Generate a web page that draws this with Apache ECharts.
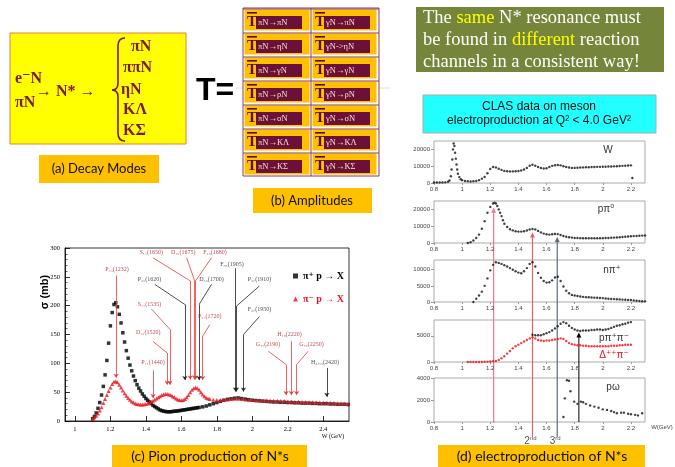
<!DOCTYPE html>
<html><head><meta charset="utf-8">
<script src="https://cdn.jsdelivr.net/npm/echarts@6/dist/echarts.min.js"></script>
<style>html,body{margin:0;padding:0;background:#fff}#c{width:675px;height:467px}</style>
</head><body><div id="c"></div>
<script>
// ================= DATA =================
// (a) decay modes
const initialStates = ['e⁻N', 'πN'];
const decayModes = ['πN', 'ππN', 'ηN', 'KΛ', 'KΣ'];
// (b) amplitudes
const ampPion = ['πN→πN', 'πN→ηN', 'πN→γN', 'πN→ρN', 'πN→σN', 'πN→KΛ', 'πN→KΣ'];
const ampPhoton = ['γN→πN', 'γN->ηN', 'γN→γN', 'γN→ρN', 'γN→σN', 'γN→KΛ', 'γN→KΣ'];
// (c) pion production, W (GeV) vs sigma (mb)
const cXTicks = [1, 1.2, 1.4, 1.6, 1.8, 2, 2.2, 2.4];
const cYTicks = [0, 50, 100, 150, 200, 250, 300];
const piPlusP = [[1.10,4],[1.11,8],[1.12,14],[1.13,22],[1.14,32],[1.15,45],[1.16,60],[1.17,80],[1.18,105],[1.19,135],[1.20,165],[1.21,188],[1.22,202],[1.23,205],[1.24,198],[1.25,185],[1.26,170],[1.27,153],[1.28,137],[1.29,122],[1.30,109],[1.31,97],[1.32,87],[1.33,78],[1.34,70],[1.35,63],[1.36,57],[1.37,52],[1.38,47],[1.39,43],[1.40,39],[1.41,36],[1.42,33],[1.43,30],[1.44,27],[1.45,25],[1.46,23],[1.47,21],[1.48,19],[1.49,18],[1.50,17],[1.51,16.5],[1.52,16],[1.53,16],[1.54,16],[1.55,16.5],[1.56,17],[1.57,17],[1.58,17.5],[1.59,18],[1.60,18.5],[1.61,19],[1.62,19.5],[1.63,20],[1.64,20.5],[1.65,21],[1.66,21.5],[1.67,22],[1.68,22.5],[1.69,23],[1.70,23.5],[1.72,24.5],[1.74,26],[1.76,28],[1.78,30],[1.80,32],[1.82,34],[1.84,36],[1.86,37.5],[1.88,38.5],[1.90,39.5],[1.92,40],[1.94,39],[1.96,38],[1.98,37],[2.00,36],[2.02,35.5],[2.04,35],[2.06,34.5],[2.08,34],[2.10,33.5],[2.12,33],[2.14,33],[2.16,32.5],[2.18,32.5],[2.20,32],[2.22,32],[2.24,31.5],[2.26,31.5],[2.28,31],[2.30,31],[2.32,31],[2.34,30.5],[2.36,30.5],[2.38,30],[2.40,30],[2.42,30],[2.44,29.5],[2.46,29.5],[2.48,29],[2.50,29],[2.52,29],[2.54,28.5]];
const piMinusP = [[1.10,4],[1.11,6],[1.12,9],[1.13,13],[1.14,18],[1.15,24],[1.16,31],[1.17,38],[1.18,45],[1.19,52],[1.20,58],[1.21,64],[1.22,68],[1.23,69],[1.24,67],[1.25,63],[1.26,58],[1.27,53],[1.28,48],[1.29,44],[1.30,40],[1.31,37],[1.32,34],[1.33,32],[1.34,30.5],[1.35,29.5],[1.36,29],[1.37,28.5],[1.38,28.5],[1.39,29],[1.40,29.5],[1.41,30.5],[1.42,32],[1.43,33.5],[1.44,35],[1.45,37],[1.46,39],[1.47,41],[1.48,43],[1.49,45],[1.50,46],[1.51,47],[1.52,47],[1.53,46],[1.54,45],[1.55,43],[1.56,41],[1.57,39],[1.58,37.5],[1.59,36.5],[1.60,36],[1.61,36.5],[1.62,38],[1.63,41],[1.64,45],[1.65,50],[1.66,54],[1.67,57],[1.68,58],[1.69,57],[1.70,54],[1.71,50],[1.72,46],[1.73,43],[1.74,40.5],[1.75,39],[1.76,38],[1.78,37],[1.80,36.5],[1.82,36.5],[1.84,37],[1.86,37.5],[1.88,38],[1.90,38.5],[1.92,38.5],[1.94,38],[1.96,37.5],[1.98,37],[2.00,36.5],[2.02,36],[2.04,36],[2.06,35.5],[2.08,35.5],[2.10,35],[2.12,35],[2.14,35],[2.16,34.5],[2.18,34.5],[2.20,34],[2.22,34],[2.24,33.5],[2.26,33.5],[2.28,33],[2.30,33],[2.32,32.5],[2.34,32.5],[2.36,32],[2.38,32],[2.40,31.5],[2.42,31.5],[2.44,31],[2.46,31],[2.48,30.5],[2.50,30.5],[2.52,30],[2.54,30]];
// resonance annotations (data coords: W, sigma); ch '+' = black, '-' = red
const resonances = [
  {name:'P₃₃(1232)', ch:'-', at:[1.237,262], path:[[1.232,252],[1.232,75]]},
  {name:'S₁₁(1650)', ch:'-', at:[1.43,292], path:[[1.44,283],[1.65,243],[1.65,72]]},
  {name:'D₁₅(1675)', ch:'-', at:[1.61,292], path:[[1.63,283],[1.675,243],[1.675,72]]},
  {name:'F₁₅(1680)', ch:'-', at:[1.79,292], path:[[1.77,283],[1.68,243],[1.68,72]]},
  {name:'F₃₅(1905)', ch:'+', at:[1.885,272], path:[[1.905,265],[1.905,51]]},
  {name:'P₃₁(1620)', ch:'+', at:[1.42,246], path:[[1.45,237],[1.62,202],[1.62,71]]},
  {name:'D₃₃(1700)', ch:'+', at:[1.77,246], path:[[1.77,237],[1.70,202],[1.70,71]]},
  {name:'P₃₁(1910)', ch:'+', at:[2.04,246], path:[[2.04,234],[1.91,199],[1.91,51]]},
  {name:'S₁₁(1535)', ch:'-', at:[1.42,202], path:[[1.432,194],[1.535,159],[1.535,63]]},
  {name:'P₁₃(1720)', ch:'-', at:[1.76,182], path:[[1.76,167],[1.72,147],[1.72,71]]},
  {name:'F₃₇(1950)', ch:'+', at:[2.04,194], path:[[2.04,181],[1.95,150],[1.95,51]]},
  {name:'D₁₃(1520)', ch:'-', at:[1.413,153], path:[[1.44,138],[1.52,118],[1.52,63]]},
  {name:'H₁₉(2220)', ch:'-', at:[2.21,150], path:[[2.22,138],[2.22,45]]},
  {name:'G₁₇(2190)', ch:'-', at:[2.089,133], path:[[2.09,121],[2.19,98],[2.19,45]]},
  {name:'G₁₉(2250)', ch:'-', at:[2.333,133], path:[[2.315,121],[2.25,98],[2.25,45]]},
  {name:'P₁₁(1440)', ch:'-', at:[1.44,101], path:[[1.44,88],[1.44,40]]},
  {name:'H₃,₁₁(2420)', ch:'+', at:[2.41,101], path:[[2.42,92],[2.42,42]]}
];
// (d) CLAS electroproduction panels
const dXTicks = [0.8, 1, 1.2, 1.4, 1.6, 1.8, 2, 2.2];
const wYTicks = [0, 10000, 20000];
const pi0YTicks = [0, 10000, 20000];
const npYTicks = [0, 5000, 10000];
const ppmYTicks = [0, 5000];
const omegaYTicks = [0, 2000, 4000];
const wInclusive = [[0.80,300],[0.82,300],[0.84,300],[0.86,300],[0.88,400],[0.90,700],[0.91,1500],[0.92,4000],[0.925,8000],[0.93,14000],[0.935,20000],[0.94,23500],[0.945,22000],[0.95,18000],[0.955,14500],[0.96,11000],[0.965,8000],[0.97,5500],[0.98,3500],[0.99,2300],[1.00,1700],[1.02,1200],[1.04,1000],[1.06,900],[1.08,1000],[1.10,1200],[1.12,1700],[1.14,2600],[1.16,3600],[1.18,5800],[1.20,8300],[1.22,9500],[1.24,9300],[1.26,8500],[1.28,7800],[1.30,7200],[1.32,7000],[1.34,6900],[1.36,6900],[1.38,7000],[1.40,7100],[1.42,7400],[1.44,8000],[1.46,9000],[1.48,10300],[1.50,10900],[1.52,10300],[1.54,9500],[1.56,8900],[1.58,8600],[1.60,8800],[1.62,9500],[1.64,10200],[1.66,10600],[1.68,10700],[1.70,10500],[1.72,10000],[1.74,9500],[1.76,9200],[1.78,9000],[1.80,9000],[1.82,9100],[1.84,9200],[1.86,9300],[1.88,9400],[1.90,9400],[1.92,9500],[1.94,9500],[1.96,9600],[1.98,9600],[2.00,9700],[2.02,9700],[2.04,9800],[2.06,9800],[2.08,9900],[2.10,10000],[2.12,10100],[2.14,10200],[2.16,10300],[2.18,10400],[2.20,10500],[2.21,3000]];
const pPi0 = [[1.04,0],[1.06,500],[1.08,1500],[1.10,3000],[1.12,5000],[1.14,8500],[1.16,13000],[1.18,18000],[1.20,21500],[1.22,23500],[1.23,24000],[1.24,23500],[1.25,22000],[1.26,20000],[1.27,18000],[1.28,16000],[1.29,13500],[1.30,11500],[1.32,9500],[1.34,8200],[1.36,7500],[1.38,7000],[1.40,6800],[1.42,6800],[1.44,7000],[1.46,7400],[1.48,8000],[1.50,8300],[1.52,8000],[1.54,7200],[1.56,6300],[1.58,5600],[1.60,5200],[1.62,5000],[1.64,5200],[1.66,5400],[1.68,5300],[1.70,4800],[1.72,4200],[1.74,3700],[1.76,3400],[1.78,3200],[1.80,3000],[1.82,2950],[1.84,2900],[1.86,2850],[1.88,2800],[1.90,2800],[1.92,2800],[1.94,2800],[1.96,2800],[1.98,2850],[2.00,2900],[2.02,2950],[2.04,3000],[2.06,3100],[2.08,3200],[2.10,3300],[2.12,3400],[2.14,3550],[2.16,3700],[2.18,3850],[2.20,4000],[2.22,4100],[2.24,4200],[2.26,4300],[2.28,4400],[2.30,4500]];
const nPiPlus = [[1.08,0],[1.10,1000],[1.12,2000],[1.14,3200],[1.16,5000],[1.18,7300],[1.20,9800],[1.22,11500],[1.24,12300],[1.26,12100],[1.28,11800],[1.30,11400],[1.32,11000],[1.34,10500],[1.36,10000],[1.38,9500],[1.40,9100],[1.42,8900],[1.44,9500],[1.46,10500],[1.48,11800],[1.50,12300],[1.52,11000],[1.54,9000],[1.56,7500],[1.58,6500],[1.60,6000],[1.62,6100],[1.64,6700],[1.66,7600],[1.68,7800],[1.70,6500],[1.72,4800],[1.74,3500],[1.76,2700],[1.78,2200],[1.80,2000],[1.82,1850],[1.84,1700],[1.86,1600],[1.88,1500],[1.90,1450],[1.92,1400],[1.94,1350],[1.96,1300],[1.98,1250],[2.00,1200],[2.02,1100],[2.04,1000],[2.06,950],[2.08,900],[2.10,850],[2.12,800],[2.14,750],[2.16,700],[2.18,650],[2.20,600],[2.22,500],[2.24,400],[2.26,300],[2.28,250],[2.30,200]];
const pPipPim = [[1.50,5200],[1.52,5100],[1.54,5100],[1.56,5100],[1.58,5300],[1.60,5500],[1.62,5700],[1.64,6000],[1.66,6400],[1.68,6800],[1.70,7300],[1.72,7600],[1.74,7400],[1.76,6900],[1.78,6500],[1.80,6200],[1.82,6000],[1.84,5900],[1.86,6000],[1.88,6000],[1.90,6000],[1.92,6100],[1.94,6100],[1.96,6200],[1.98,6200],[2.00,6100],[2.02,6200],[2.04,6300],[2.06,6500],[2.08,6700],[2.10,6900],[2.12,7000],[2.14,7200],[2.16,7300],[2.18,7500],[2.20,7600]];
const deltaPiMinus = [[1.04,0],[1.06,0],[1.08,0],[1.10,0],[1.12,0],[1.14,0],[1.16,50],[1.18,50],[1.20,100],[1.22,150],[1.24,200],[1.26,400],[1.28,700],[1.30,1100],[1.32,1600],[1.34,2100],[1.36,2600],[1.38,3000],[1.40,3300],[1.42,3600],[1.44,3900],[1.46,4200],[1.48,4500],[1.50,4700],[1.52,4500],[1.54,4200],[1.56,4100],[1.58,4000],[1.60,4100],[1.62,4100],[1.64,4200],[1.66,4300],[1.68,4400],[1.70,4500],[1.72,4400],[1.74,4000],[1.76,3600],[1.78,3400],[1.80,3300],[1.82,3200],[1.84,3200],[1.86,3100],[1.88,3100],[1.90,3000],[1.92,3000],[1.94,3000],[1.96,3000],[1.98,3000],[2.00,3000],[2.02,3000],[2.04,3000],[2.06,3100],[2.08,3100],[2.10,3100],[2.12,3200],[2.14,3200],[2.16,3300],[2.18,3300],[2.20,3300]];
const pOmega = [[1.72,460],[1.73,2150],[1.745,3800],[1.76,3750],[1.77,2800],[1.797,1850],[1.82,1650],[1.844,1850],[1.86,1800],[1.88,1650],[1.91,1500],[1.94,1400],[1.97,1300],[2.00,1150],[2.03,1100],[2.06,1000],[2.08,900],[2.10,800],[2.13,850],[2.15,850],[2.18,750],[2.20,700],[2.23,650],[2.25,600],[2.28,800]];
// resonance markers in (d): W positions and arrow-tip values in the p pi0 panel
const resonanceW = [1.224, 1.50, 1.676];
const resonanceTipPi0 = [21000, 6200, 3600];
const resonanceNames = ['', '2', '3'];
const omegaArrowW = 1.83;
const omegaArrowTip = 5600;

// ================= CHART =================
const SERIF = '"Liberation Serif","DejaVu Serif",serif';
const SANS = '"Liberation Sans","DejaVu Sans",sans-serif';
const CAPF = 'Lato,"Open Sans",sans-serif';
const chart = echarts.init(document.getElementById('c'));

const dGrids = [
  {top:141, height:42}, {top:201, height:42}, {top:260, height:42}, {top:320, height:42}, {top:378, height:44}
];
const dYMax = [25000, 25000, 13000, 8000, 4000];
const dYTicks = [wYTicks, pi0YTicks, npYTicks, ppmYTicks, omegaYTicks];

const grids = [{left:65, top:248, width:284, height:173, show:true, borderColor:'#000', borderWidth:0.8, backgroundColor:'transparent'}];
dGrids.forEach(g => grids.push({left:434, width:211, top:g.top, height:g.height, show:true, borderColor:'#aaa', borderWidth:1}));

const xAxes = [{
  type:'value', gridIndex:0, min:0.944, max:2.545,
  axisLine:{show:true, lineStyle:{color:'#000', width:0.8}},
  axisTick:{show:true, inside:true, length:5, customValues:cXTicks, lineStyle:{color:'#000', width:0.8}},
  axisLabel:{customValues:cXTicks, fontFamily:SERIF, fontSize:6.5, color:'#000', margin:5, formatter:v=>String(v)},
  splitLine:{show:false}
}];
const yAxes = [{
  type:'value', gridIndex:0, min:0, max:300, interval:50,
  axisLine:{show:true, lineStyle:{color:'#000', width:0.8}},
  axisTick:{show:true, inside:true, length:5, lineStyle:{color:'#000', width:0.8}},
  minorTick:{show:true, splitNumber:5, length:2.5, lineStyle:{color:'#000', width:0.6}},
  axisLabel:{fontFamily:SERIF, fontSize:6.5, color:'#000', margin:5},
  splitLine:{show:false}
}];
for (let i = 0; i < 5; i++) {
  xAxes.push({
    type:'value', gridIndex:i+1, min:0.8, max:2.3,
    axisLine:{show:false},
    axisTick:{show:true, length:2, customValues:dXTicks, lineStyle:{color:'#999'}},
    axisLabel:{customValues:dXTicks, fontFamily:SANS, fontSize:6, color:'#444', margin:3, formatter:v=>String(v)},
    splitLine:{show:false}
  });
  yAxes.push({
    type:'value', gridIndex:i+1, min:0, max:dYMax[i],
    axisLine:{show:false},
    axisTick:{show:true, length:3, customValues:dYTicks[i], lineStyle:{color:'#999'}},
    axisLabel:{customValues:dYTicks[i], fontFamily:SANS, fontSize:6, color:'#444', margin:4, formatter:v=>String(v)},
    splitLine:{show:false}
  });
}

// annotation segments
const segs = {'-':{mid:[], fin:[]}, '+':{mid:[], fin:[]}};
resonances.forEach(r => {
  for (let k = 0; k < r.path.length - 1; k++) {
    const s = {coords:[r.path[k], r.path[k+1]]};
    if (k === r.path.length - 2) segs[r.ch].fin.push(s); else segs[r.ch].mid.push(s);
  }
});
const RED = '#e8141e';
const annColor = {'-':'#ee3b3b', '+':'#222'};

const series = [
  {type:'scatter', name:'π⁺ p → X', xAxisIndex:0, yAxisIndex:0, symbol:'rect', symbolSize:3.5, itemStyle:{color:'#000'}, data:piPlusP, z:2},
  {type:'scatter', name:'π⁻ p → X', xAxisIndex:0, yAxisIndex:0, symbol:'triangle', symbolSize:4, itemStyle:{color:RED}, data:piMinusP, z:3}
];
['-','+'].forEach(ch => {
  series.push({type:'lines', coordinateSystem:'cartesian2d', xAxisIndex:0, yAxisIndex:0, symbol:['none','none'], lineStyle:{color:annColor[ch], width:0.8, opacity:1}, data:segs[ch].mid, z:4, silent:true});
  series.push({type:'lines', coordinateSystem:'cartesian2d', xAxisIndex:0, yAxisIndex:0, symbol:['none','arrow'], symbolSize:4, lineStyle:{color:annColor[ch], width:0.8, opacity:1}, data:segs[ch].fin, z:4, silent:true});
});
series.push({type:'scatter', xAxisIndex:0, yAxisIndex:0, symbolSize:1, itemStyle:{color:'rgba(0,0,0,0)'}, z:5, silent:true,
  data:resonances.map(r => ({name:r.name, value:r.at, label:{color:r.ch === '-' ? '#b02020' : '#222'}})),
  label:{show:true, position:'inside', formatter:'{b}', fontFamily:SERIF, fontSize:6}});

const dData = [wInclusive, pPi0, nPiPlus, pPipPim, pOmega];
dData.forEach((d, i) => series.push({type:'scatter', xAxisIndex:i+1, yAxisIndex:i+1, symbol:'circle', symbolSize:2.4, itemStyle:{color:'#111'}, data:d, silent:true}));
series.push({type:'scatter', xAxisIndex:4, yAxisIndex:4, symbol:'circle', symbolSize:2.4, itemStyle:{color:'#f01010'}, data:deltaPiMinus, silent:true});

chart.setOption({
  animation:false,
  backgroundColor:'#fff',
  grid:grids, xAxis:xAxes, yAxis:yAxes,
  legend:{orient:'vertical', left:288, top:266, itemWidth:5, itemHeight:5, itemGap:13,
    textStyle:{fontFamily:SERIF, fontWeight:'bold', fontSize:10},
    data:[{name:'π⁺ p → X', icon:'rect', textStyle:{color:'#000'}}, {name:'π⁻ p → X', icon:'triangle', textStyle:{color:RED}}]},
  series:series
});

// ================= GRAPHICS =================
const MAROON = '#7a1a3a';
const ORANGE = '#FFC000';
const g = [];
// (a) decay modes box
g.push({type:'rect', shape:{x:10, y:33, width:176, height:111}, style:{fill:'#FFFF00', stroke:'#e0804a', lineWidth:1}});
g.push({type:'text', x:15, y:79, style:{text:initialStates[0], font:'bold 16px '+SERIF, fill:MAROON, verticalAlign:'middle'}});
g.push({type:'text', x:15, y:103, style:{text:initialStates[1], font:'bold 16px '+SERIF, fill:MAROON, verticalAlign:'middle'}});
g.push({type:'text', x:36, y:92, style:{text:'→ N* →', font:'bold 16px '+SERIF, fill:MAROON, verticalAlign:'middle'}});
const braceStyle = {fill:'none', stroke:MAROON, lineWidth:1.6};
const bx = 118;
g.push({type:'bezierCurve', shape:{x1:bx+7, y1:38, cpx1:bx, cpy1:38, x2:bx, y2:46}, style:braceStyle});
g.push({type:'line', shape:{x1:bx, y1:46, x2:bx, y2:83}, style:braceStyle});
g.push({type:'bezierCurve', shape:{x1:bx, y1:83, cpx1:bx, cpy1:90, x2:bx-6, y2:90}, style:braceStyle});
g.push({type:'bezierCurve', shape:{x1:bx-6, y1:90, cpx1:bx, cpy1:90, x2:bx, y2:97}, style:braceStyle});
g.push({type:'line', shape:{x1:bx, y1:97, x2:bx, y2:133}, style:braceStyle});
g.push({type:'bezierCurve', shape:{x1:bx, y1:133, cpx1:bx, cpy1:141, x2:bx+7, y2:141}, style:braceStyle});
const modeY = [47, 68, 90, 110, 131];
const modeX = [131, 123, 121, 123, 123];
decayModes.forEach((m, i) => g.push({type:'text', x:modeX[i], y:modeY[i], style:{text:m, font:'bold 16px '+SERIF, fill:MAROON, verticalAlign:'middle'}}));
g.push({type:'rect', shape:{x:39, y:155, width:120, height:28}, style:{fill:ORANGE}});
g.push({type:'text', x:99, y:169, style:{text:'(a) Decay Modes', font:'13px '+CAPF, fill:'#111', align:'center', verticalAlign:'middle'}});
// T=
g.push({type:'line', shape:{x1:236, y1:88, x2:390, y2:88}, style:{stroke:'#ddd', lineWidth:1}});
g.push({type:'text', x:196, y:91, style:{text:'T=', font:'bold 32px '+SANS, fill:'#000', verticalAlign:'middle'}});
// (b) amplitude table
g.push({type:'rect', shape:{x:243, y:8, width:136, height:168}, style:{fill:'#fff', stroke:'#8b3a5c', lineWidth:1}});
[ampPion, ampPhoton].forEach((col, c) => {
  col.forEach((txt, r) => {
    const x0 = 243 + c*68, y0 = 8 + r*24;
    g.push({type:'rect', shape:{x:x0+1.5, y:y0+1.5, width:c ? 64 : 65, height:21}, style:{fill:ORANGE}});
    g.push({type:'line', shape:{x1:x0, y1:y0+1, x2:x0+68, y2:y0+1}, style:{stroke:'#8b3a5c', lineWidth:1}});
    g.push({type:'rect', shape:{x:x0+13, y:y0+8, width:46, height:13}, style:{fill:'#6b1036'}});
    g.push({type:'rect', shape:{x:x0+4, y:y0+4, width:10, height:1.6}, style:{fill:'#5a0b2c'}});
    g.push({type:'text', x:x0+4, y:y0+14, style:{text:'T', font:'bold 15px '+SERIF, fill:'#5a0b2c', verticalAlign:'middle'}});
    g.push({type:'text', x:x0+15, y:y0+15, style:{text:txt, font:'8.5px '+SERIF, fill:'#f7e3cf', verticalAlign:'middle'}});
  });
});
g.push({type:'line', shape:{x1:311, y1:8, x2:311, y2:176}, style:{stroke:'#8b3a5c', lineWidth:1}});
g.push({type:'rect', shape:{x:253, y:188, width:119, height:25}, style:{fill:ORANGE}});
g.push({type:'text', x:312, y:201, style:{text:'(b) Amplitudes', font:'13px '+CAPF, fill:'#111', align:'center', verticalAlign:'middle'}});
// olive message box
g.push({type:'rect', shape:{x:416, y:7, width:248, height:65}, style:{fill:'#75853a'}});
const msg = [
  '{w|The }{y|same}{w| N* resonance must}',
  '{w|be found in }{y|different}{w| reaction}',
  '{w|channels in a consistent way!}'
];
msg.forEach((t, i) => g.push({type:'text', x:423, y:18 + i*22, style:{text:t, verticalAlign:'middle', font:'18.5px '+SERIF,
  rich:{w:{fill:'#fff', font:'18.5px '+SERIF}, y:{fill:'#ffff00', font:'18.5px '+SERIF}}}}));
// cyan CLAS box
g.push({type:'rect', shape:{x:423, y:95, width:233, height:38}, style:{fill:'#22ffff', stroke:'#aaa', lineWidth:1}});
g.push({type:'text', x:539, y:107, style:{text:'CLAS data on meson', font:'12px '+SANS, fill:'#111', align:'center', verticalAlign:'middle'}});
g.push({type:'text', x:539, y:121, style:{text:'electroproduction at Q² < 4.0 GeV²', font:'12px '+SANS, fill:'#111', align:'center', verticalAlign:'middle'}});
// (c) axis titles & caption
g.push({type:'text', x:45, y:292, rotation:Math.PI/2, style:{text:'σ (mb)', font:'bold 11px '+SANS, fill:'#000', align:'center', verticalAlign:'middle'}});
g.push({type:'text', x:333, y:436, style:{text:'W (GeV)', font:'6px '+SERIF, fill:'#000', align:'center', verticalAlign:'middle'}});
g.push({type:'rect', shape:{x:112, y:445, width:195, height:22}, style:{fill:ORANGE}});
g.push({type:'text', x:210, y:456, style:{text:'(c) Pion production of N*s', font:'14px '+CAPF, fill:'#111', align:'center', verticalAlign:'middle'}});
// (d) panel labels & caption
const panelLabels = [
  {t:'W', x:608, y:150}, {t:'pπ⁰', x:606, y:209}, {t:'nπ⁺', x:612, y:270}, {t:'pπ⁺π⁻', x:614, y:338}, {t:'pω', x:613, y:387}
];
panelLabels.forEach(p => g.push({type:'text', x:p.x, y:p.y, style:{text:p.t, font:'10px '+SANS, fill:'#333', align:'center', verticalAlign:'middle'}}));
g.push({type:'text', x:614, y:355, style:{text:'Δ⁺⁺π⁻', font:'10px '+SANS, fill:'#f01010', align:'center', verticalAlign:'middle'}});
g.push({type:'text', x:662, y:427, style:{text:'W(GeV)', font:'6px '+SANS, fill:'#444', align:'center', verticalAlign:'middle'}});
g.push({type:'rect', shape:{x:438, y:445, width:207, height:22}, style:{fill:ORANGE}});
g.push({type:'text', x:542, y:456, style:{text:'(d) electroproduction of N*s', font:'14px '+CAPF, fill:'#111', align:'center', verticalAlign:'middle'}});
// (d) resonance lines
const px = (i, x, y) => chart.convertToPixel({xAxisIndex:i, yAxisIndex:i}, [x, y]);
const lineColors = ['#ff6f91', '#e8606a', '#5a6a88'];
const lineExt = [1, 15, 15];
resonanceW.forEach((w, k) => {
  const top = px(2, w, resonanceTipPi0[k]);
  const bot = px(5, w, 0);
  const xx = top[0];
  g.push({type:'line', shape:{x1:xx, y1:top[1]+3, x2:xx, y2:bot[1]+lineExt[k]}, style:{stroke:lineColors[k], lineWidth:1.2}});
  g.push({type:'polygon', shape:{points:[[xx, top[1]], [xx-2.5, top[1]+5], [xx+2.5, top[1]+5]]}, style:{fill:lineColors[k]}});
  if (resonanceNames[k]) {
    g.push({type:'text', x:xx-2, y:bot[1]+lineExt[k]+4, style:{text:resonanceNames[k] + (k === 1 ? '{s|nd}' : '{s|rd}'), font:'10px '+SANS, fill:'#555', align:'center', verticalAlign:'middle', rich:{s:{font:'6px '+SANS, fill:'#555', verticalAlign:'top', padding:[0,0,6,0]}}}});
  }
});
{
  const top = px(4, omegaArrowW, omegaArrowTip);
  const bot = px(5, omegaArrowW, 0);
  g.push({type:'line', shape:{x1:top[0], y1:top[1]+3, x2:top[0], y2:bot[1]}, style:{stroke:'#000', lineWidth:1}});
  g.push({type:'polygon', shape:{points:[[top[0], top[1]], [top[0]-2.5, top[1]+5], [top[0]+2.5, top[1]+5]]}, style:{fill:'#000'}});
}
chart.setOption({graphic:g});
</script>
</body></html>
